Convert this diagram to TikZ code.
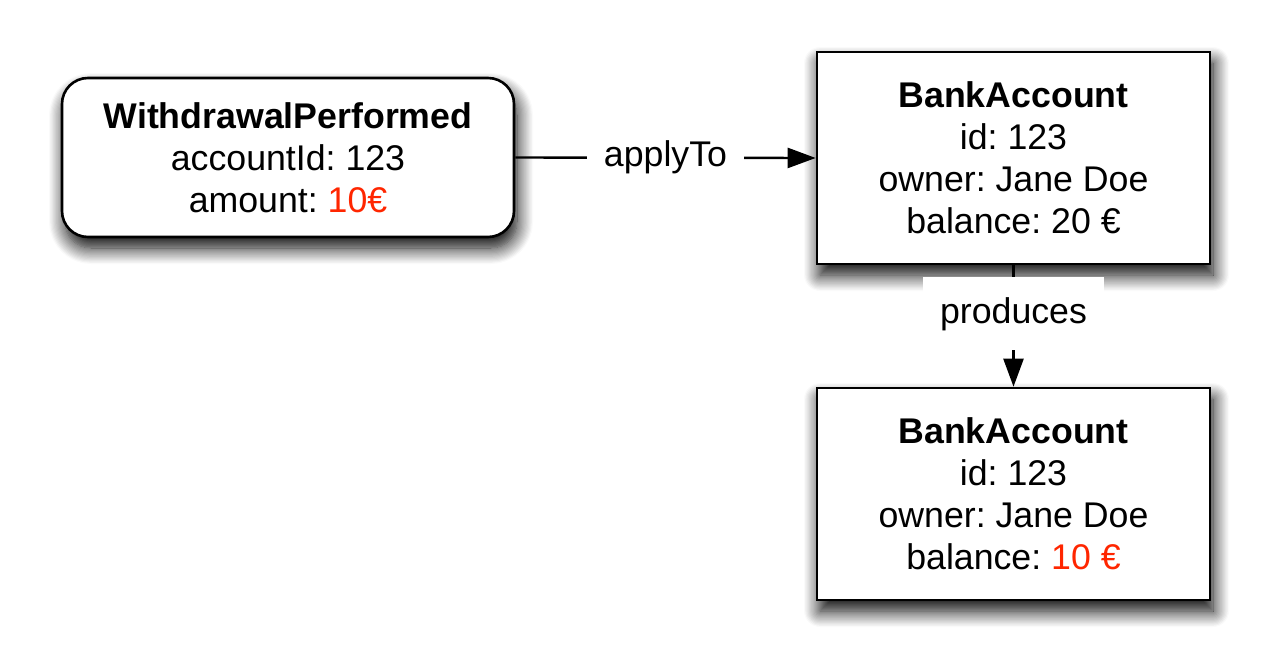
\documentclass[tikz,border=0pt]{standalone}
\usepackage{fontspec}
\setmainfont{Liberation Sans}
\frenchspacing
\usetikzlibrary{arrows.meta,shadows.blur}
\definecolor{hlred}{RGB}{255,38,0}
\begin{document}
\begin{tikzpicture}[x=1pt,y=-1pt,
  txt/.style={font=\fontsize{35.7}{42}\selectfont, align=center},
  box/.style={txt, draw=black, line width=2.6pt, fill=white, inner sep=0pt,
    blur shadow={shadow xshift=3pt, shadow yshift=-11pt, shadow blur radius=16pt, shadow blur steps=14, shadow opacity=100}},
  conn/.style={line width=2.4pt, -{Triangle[length=28pt,width=20pt]}},
  lbl/.style={txt, fill=white, inner xsep=17pt, inner ysep=0pt}
]
\useasboundingbox (0,0) rectangle (1272,672);
\node[box, rounded corners=26pt, minimum width=452pt, minimum height=159pt] (wp) at (288,157.5)
  {\textbf{WithdrawalPerformed}\\accountId: 123\\amount: \textcolor{hlred}{10€}};
\node[box, minimum width=393pt, minimum height=212pt] (ba1) at (1013.5,158)
  {\textbf{BankAccount}\\id: 123\\owner: Jane Doe\\balance: 20 €};
\node[box, minimum width=393pt, minimum height=212pt] (ba2) at (1013.5,494)
  {\textbf{BankAccount}\\id: 123\\owner: Jane Doe\\balance: \textcolor{hlred}{10 €}};
\draw[conn] (wp.east) -- node[lbl, minimum height=50pt] {applyTo} (ba1.west);
\draw[conn] (ba1.south) -- node[lbl, pos=0.4, minimum width=180pt, minimum height=73pt] {produces} (ba2.north);
\end{tikzpicture}
\end{document}
